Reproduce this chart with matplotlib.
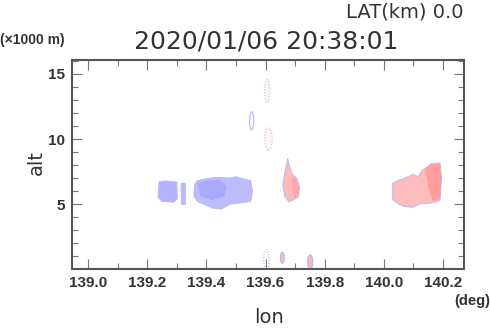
import numpy as np
import matplotlib.pyplot as plt
from matplotlib.patches import Polygon, Ellipse

# blob outlines: (lon [deg], alt [x1000 m])
blue_a_lon = [139.240, 139.260, 139.300, 139.302, 139.290, 139.250, 139.237]
blue_a_alt = [6.70, 6.77, 6.70, 5.40, 5.15, 5.20, 5.50]

blue_strip_lon = [139.315, 139.329, 139.329, 139.315]
blue_strip_alt = [6.60, 6.60, 4.95, 5.00]

blue_b_lon = [139.360, 139.370, 139.400, 139.430, 139.480, 139.500, 139.530, 139.550,
              139.556, 139.550, 139.520, 139.480, 139.450, 139.420, 139.400, 139.370, 139.358]
blue_b_alt = [6.50, 6.80, 6.95, 7.05, 7.00, 7.10, 6.90, 6.80,
              6.00, 5.20, 5.10, 5.00, 4.60, 4.70, 4.90, 5.20, 5.60]
blue_b_core_lon = [139.370, 139.400, 139.440, 139.470, 139.460, 139.420, 139.380]
blue_b_core_alt = [6.60, 6.80, 6.90, 6.40, 5.60, 5.30, 5.60]

red_c_lon = [139.675, 139.680, 139.690, 139.705, 139.715, 139.712, 139.700, 139.680,
             139.665, 139.658, 139.665]
red_c_alt = [8.50, 8.00, 7.30, 7.00, 6.30, 5.60, 5.40, 5.15, 5.60, 6.50, 7.40]
red_c_core_lon = [139.692, 139.705, 139.713, 139.710, 139.697, 139.690]
red_c_core_alt = [7.10, 6.90, 6.30, 5.60, 5.45, 6.30]

red_d_lon = [140.030, 140.045, 140.060, 140.080, 140.100, 140.115, 140.130, 140.150,
             140.160, 140.190, 140.195, 140.190, 140.170, 140.120, 140.100, 140.070,
             140.050, 140.030]
red_d_alt = [6.60, 6.80, 6.90, 7.10, 7.30, 7.10, 7.60, 7.90,
             8.10, 8.15, 7.00, 5.30, 5.10, 5.00, 4.75, 4.80, 5.00, 5.30]
red_d_core_lon = [140.140, 140.160, 140.190, 140.194, 140.189, 140.165, 140.150]
red_d_core_alt = [7.70, 8.05, 8.10, 7.00, 5.40, 5.20, 6.40]

# small contour rings: centre lon, centre alt, width, height, dotted
ring_lon = [139.553, 139.605, 139.610, 139.603, 139.657, 139.751]
ring_alt = [11.40, 13.70, 10.00, 0.75, 0.88, 0.55]
ring_w = [0.014, 0.016, 0.025, 0.018, 0.013, 0.018]
ring_h = [1.40, 1.80, 1.70, 1.50, 0.85, 1.10]
ring_dot = [False, True, True, True, False, False]
ring_fill = ['none', '#fff6f6', '#fff6f6', 'none', '#ffb8b8', '#ffb8b8']

xticks = [139.0, 139.2, 139.4, 139.6, 139.8, 140.0, 140.2]
yticks = [5, 10, 15]

fig = plt.figure(figsize=(4.9, 3.31), dpi=100)
ax = fig.add_axes([0.147, 0.187, 0.800, 0.632])
edge = '#b4b4ff'


def blob(lon, alt, color, lw=0.6):
    ax.add_patch(Polygon(np.column_stack([lon, alt]), closed=True,
                         facecolor=color, edgecolor=edge if lw else 'none', lw=lw))


blob(blue_a_lon, blue_a_alt, '#b2b2fd')
blob(blue_strip_lon, blue_strip_alt, '#babafd')
blob(blue_b_lon, blue_b_alt, '#bcbcfe')
blob(blue_b_core_lon, blue_b_core_alt, '#a9a9fa', lw=0)
blob(red_c_lon, red_c_alt, '#ffbaba')
blob(red_c_core_lon, red_c_core_alt, '#ffa6a6', lw=0)
blob(red_d_lon, red_d_alt, '#ffbcbc')
blob(red_d_core_lon, red_d_core_alt, '#ff9c9c', lw=0)

for i in range(len(ring_lon)):
    ax.add_patch(Ellipse((ring_lon[i], ring_alt[i]), ring_w[i], ring_h[i],
                         facecolor=ring_fill[i], edgecolor=edge, lw=0.8,
                         linestyle=':' if ring_dot[i] else '-'))

ax.set_xlim(138.946, 140.271)
ax.set_ylim(0, 16.08)
ax.set_xticks(xticks)
ax.set_xticklabels(['%.1f' % t for t in xticks])
ax.set_xticks(np.arange(139.1, 140.25, 0.2), minor=True)
ax.set_yticks(yticks)
ax.set_yticks([t for t in range(1, 17) if t % 5], minor=True)
ax.tick_params(which='both', direction='in', top=True, right=True, colors='#777777',
               labelcolor='#333333', labelsize=11, pad=5)
ax.tick_params(which='major', length=7, width=0.8)
ax.tick_params(which='minor', length=4, width=0.8)
for lab in ax.get_xticklabels() + ax.get_yticklabels():
    lab.set_family('Liberation Sans')
    lab.set_fontweight('bold')
for s in ax.spines.values():
    s.set_color('#555555')
    s.set_linewidth(1.5)

fig.text(0.544, 0.875, '2020/01/06 20:38:01', ha='center', va='center',
         fontsize=18, color='#333333', family='DejaVu Sans')
fig.text(0.945, 0.965, 'LAT(km) 0.0', ha='right', va='center',
         fontsize=14, color='#333333', family='DejaVu Sans')
fig.text(0.0, 0.88, '(\u00d71000 m)', ha='left', va='center', fontsize=10,
         fontweight='bold', color='#333333', family='Liberation Sans')
fig.text(1.0, 0.092, '(deg)', ha='right', va='center', fontsize=10.5,
         fontweight='bold', color='#333333', family='Liberation Sans')
fig.text(0.548, 0.04, 'lon', ha='center', va='center', fontsize=14, color='#333333')
fig.text(0.075, 0.51, 'alt', ha='center', va='center', fontsize=14, color='#333333',
         rotation=90)

fig.savefig('out.png', dpi=100)
